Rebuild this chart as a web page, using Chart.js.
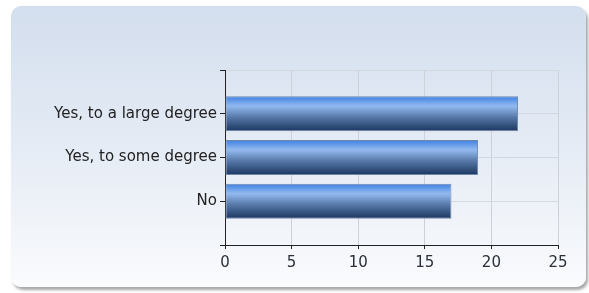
<!DOCTYPE html>
<html>
<head>
<meta charset="utf-8">
<script src="https://cdn.jsdelivr.net/npm/chart.js@4/dist/chart.umd.min.js"></script>
<style>
    html, body { margin: 0; padding: 0; background: #ffffff; }
    body { width: 589px; height: 293px; position: relative; overflow: hidden; }
    .panel {
        position: absolute; left: 11px; top: 6px; width: 575px; height: 281px;
        border-radius: 10px;
        background: linear-gradient(to bottom, #d3deee 0%, #e3eaf4 45%, #fafbfd 100%);
        box-shadow: 2px 3px 3px rgba(0,0,0,0.35);
    }
    #chartWrap { position: absolute; left: 0; top: 0; width: 589px; height: 293px; }
</style>
</head>
<body>
<div class="panel"></div>
<div id="chartWrap"><canvas id="answerChart" width="589" height="293"></canvas></div>
<script>
document.addEventListener("DOMContentLoaded", () => {

    // Datos
    const categories = ['Yes, to a large degree', 'Yes, to some degree', 'No'];
    const counts = [22, 19, 17];
    const xTicks = [0, 5, 10, 15, 20, 25];

    // hueco arriba y abajo, como en el original
    const labels = [''].concat(categories, ['']);
    const values = [null].concat(counts, [null]);

    const font = { family: 'DejaVu Sans', size: 15 };

    const barGradient = (ctx) => {
        const chart = ctx.chart;
        const y = chart.scales.y;
        if (!y || ctx.dataIndex === undefined) return '#4a7fc8';
        const center = y.getPixelForValue(ctx.dataIndex);
        const half = Math.abs(y.getPixelForValue(1) - y.getPixelForValue(0)) * 0.8 / 2;
        if (!isFinite(center) || !isFinite(half) || half <= 0) return '#4a7fc8';
        const g = chart.ctx.createLinearGradient(0, center - half, 0, center + half);
        g.addColorStop(0, '#3d80e2');
        g.addColorStop(0.28, '#93baf0');
        g.addColorStop(0.6, '#5778a8');
        g.addColorStop(1, '#1b365f');
        return g;
    };

    new Chart(document.getElementById('answerChart'), {
        type: 'bar',
        data: {
            labels: labels,
            datasets: [{
                data: values,
                backgroundColor: barGradient,
                borderColor: '#7088a8',
                borderWidth: 1,
                borderSkipped: false,
                barPercentage: 1,
                categoryPercentage: 0.8,
            }]
        },
        options: {
            indexAxis: 'y',
            responsive: false,
            animation: false,
            layout: { padding: { top: 70, right: 31, left: 0, bottom: 0 } },
            plugins: { legend: { display: false }, tooltip: { enabled: false } },
            scales: {
                x: {
                    min: 0, max: 25,
                    afterBuildTicks: (s) => { s.ticks = xTicks.map(v => ({ value: v })); },
                    afterFit: (s) => { s.height = 48; },
                    grid: { color: '#cdd2da', tickColor: '#222', tickLength: 4 },
                    border: { color: '#222', width: 1 },
                    ticks: { color: '#2a2f38', font: font, padding: 5, maxRotation: 0 }
                },
                y: {
                    offset: false,
                    afterFit: (s) => { s.width = 225; },
                    grid: { offset: false, color: '#d3d8e0', tickColor: '#222', tickLength: 5 },
                    border: { color: '#222', width: 1 },
                    ticks: { color: '#222', font: font, padding: 3, autoSkip: false }
                }
            }
        }
    });
});
</script>
</body>
</html>
